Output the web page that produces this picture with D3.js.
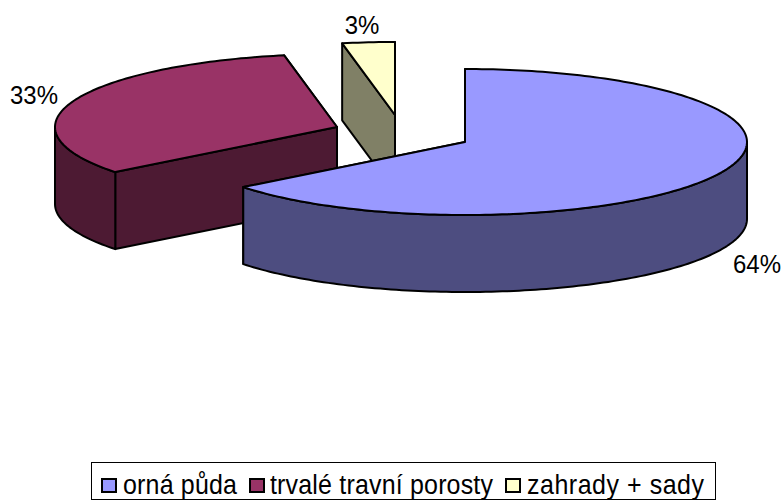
<!DOCTYPE html>
<html><head><meta charset="utf-8">
<script src="https://cdn.jsdelivr.net/npm/d3@7/dist/d3.min.js"></script>
<style>html,body{margin:0;padding:0;background:#fff}svg{display:block}text{font-family:"Liberation Sans",Arial,sans-serif;fill:#000}</style>
</head><body><svg id="c" width="784" height="501"></svg>
<script>
const categories = ["orná půda", "trvalé travní porosty", "zahrady + sady"];
const values = [64.4, 32.6, 3.0];
const percentLabels = ["64%", "33%", "3%"];
const topColors = ["#9999FF", "#993366", "#FFFFCC"];
const sideColors = ["#4D4D80", "#4D1A33", "#808066"];

const svg = d3.select("#c");
const rx = 282, ry = 73, depth = 77;
const centers = [[465,142],[337,127],[395,115]];
const labelPos = [[757,273],[34,104],[362,34]];

const arcs = d3.pie().sort(null).value(d=>d)(values);
const lineGen = d3.line();
const pt = (c,a,dz=0)=>[c[0]+rx*Math.sin(a), c[1]-ry*Math.cos(a)+dz];
const arcPts = (c,a0,a1,dz=0)=>{
  const n = Math.max(2,Math.ceil(Math.abs(a1-a0)/0.02));
  return d3.range(n+1).map(i=>pt(c,a0+(a1-a0)*i/n,dz));
};
const style = (sel,fill)=>sel.attr("fill",fill).attr("stroke","#000").attr("stroke-width",2).attr("stroke-linejoin","round");
const poly = (pts,fill)=>style(svg.append("path").attr("d",lineGen(pts)+"Z"),fill);

function drawSlice(i){
  const c = centers[i], a0 = arcs[i].startAngle, a1 = arcs[i].endAngle, col=sideColors[i];
  const cb = [c[0],c[1]+depth];
  [a0,a1].map(a=>({a,y:pt(c,a)[1]})).sort((p,q)=>p.y-q.y).forEach(({a})=>{
    poly([c,pt(c,a),pt(c,a,depth),cb],col);
  });
  const lo = Math.max(a0,Math.PI/2), hi = Math.min(a1,3*Math.PI/2);
  if(hi>lo) poly(arcPts(c,lo,hi).concat(arcPts(c,hi,lo,depth)),col);
  poly([c].concat(arcPts(c,a0,a1)),topColors[i]);
}
[2,1,0].forEach(drawSlice);

percentLabels.forEach((t,i)=>{
  svg.append("text").attr("transform",`translate(${labelPos[i][0]},${labelPos[i][1]}) scale(1,1.1)`)
    .attr("text-anchor","middle").attr("font-size",24).text(t);
});

// legend
const legendSwatchX = [102,250,506];
const legendTextX = [123,270,527];
const legendTextW = [114,223,177];
svg.append("rect").attr("x",91.5).attr("y",462.5).attr("width",624).attr("height",37)
  .attr("fill","#fff").attr("stroke","#000").attr("stroke-width",1);
categories.forEach((t,i)=>{
  svg.append("rect").attr("x",legendSwatchX[i]).attr("y",479).attr("width",14).attr("height",13)
    .attr("fill",topColors[i]).attr("stroke","#000").attr("stroke-width",2);
  svg.append("text").attr("transform",`translate(${legendTextX[i]},494) scale(1,1.1)`).attr("font-size",25)
    .attr("textLength",legendTextW[i]).attr("lengthAdjust","spacing").text(t);
});
</script></body></html>
